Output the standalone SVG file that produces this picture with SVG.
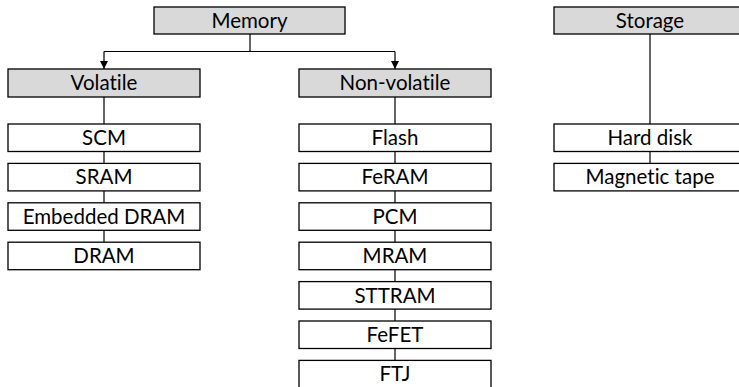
<svg xmlns="http://www.w3.org/2000/svg" width="739" height="387" viewBox="0 0 739 387">
  <defs>
    <marker id="arrow" viewBox="0 0 10 10" refX="10" refY="5" markerWidth="8" markerHeight="8" markerUnits="userSpaceOnUse" orient="auto">
      <path d="M0,0 L10,5 L0,10 z" fill="#000"/>
    </marker>
    <style>
      .head rect { fill: #d9d9d9; stroke: #000; stroke-width: 1.3; }
      .item rect { fill: #fff; stroke: #000; stroke-width: 1.3; }
      text { font-family: "Lato", "Open Sans", sans-serif; font-size: 20.5px; fill: #000; text-anchor: middle; font-variant-ligatures: none; font-feature-settings: "liga" 0, "clig" 0; }
      .links path { fill: none; stroke: #000; stroke-width: 1.2; }
    </style>
  </defs>
  <rect width="739" height="387" fill="#fff"/>

  <!-- connectors -->
  <g class="links">
    <path d="M250,34 V51.5 H104"/>
    <path d="M250,51.5 H395"/>
    <path d="M104,51.5 V69" marker-end="url(#arrow)"/>
    <path d="M395,51.5 V69" marker-end="url(#arrow)"/>
    <path d="M104,97 V124 M104,151.5 V163.4 M104,190.9 V202.8 M104,230.3 V242.2"/>
    <path d="M395,97 V124 M395,151.5 V163.4 M395,190.9 V202.8 M395,230.3 V242.2 M395,269.7 V281.6 M395,309.1 V321 M395,348.5 V360.4"/>
    <path d="M650,34 V124 M650,151.5 V163.4"/>
  </g>

  <!-- category headers -->
  <g id="memory" class="head"><rect x="154" y="7" width="191" height="27"/><text x="249.5" y="28">Memory</text></g>
  <g id="volatile" class="head"><rect x="8" y="69" width="192" height="28"/><text x="104" y="90">Volatile</text></g>
  <g id="nonvolatile" class="head"><rect x="299" y="69" width="192" height="28"/><text x="395" y="90">Non-volatile</text></g>
  <g id="storage" class="head"><rect x="554" y="7" width="192" height="27"/><text x="650" y="28">Storage</text></g>

  <!-- volatile memories -->
  <g id="scm" class="item"><rect x="8" y="124" width="192" height="27.5"/><text x="104" y="145">SCM</text></g>
  <g id="sram" class="item"><rect x="8" y="163.4" width="192" height="27.5"/><text x="104" y="184.4">SRAM</text></g>
  <g id="edram" class="item"><rect x="8" y="202.8" width="192" height="27.5"/><text x="104" y="223.8">Embedded DRAM</text></g>
  <g id="dram" class="item"><rect x="8" y="242.2" width="192" height="27.5"/><text x="104" y="263.2">DRAM</text></g>

  <!-- non-volatile memories -->
  <g id="flash" class="item"><rect x="299" y="124" width="192" height="27.5"/><text x="395" y="145">Flash</text></g>
  <g id="feram" class="item"><rect x="299" y="163.4" width="192" height="27.5"/><text x="395" y="184.4">FeRAM</text></g>
  <g id="pcm" class="item"><rect x="299" y="202.8" width="192" height="27.5"/><text x="395" y="223.8">PCM</text></g>
  <g id="mram" class="item"><rect x="299" y="242.2" width="192" height="27.5"/><text x="395" y="263.2">MRAM</text></g>
  <g id="sttram" class="item"><rect x="299" y="281.6" width="192" height="27.5"/><text x="395" y="302.6">STTRAM</text></g>
  <g id="fefet" class="item"><rect x="299" y="321" width="192" height="27.5"/><text x="395" y="342">FeFET</text></g>
  <g id="ftj" class="item"><rect x="299" y="360.4" width="192" height="40"/><text x="395" y="381.4">FTJ</text></g>

  <!-- storage media -->
  <g id="harddisk" class="item"><rect x="554" y="124" width="192" height="27.5"/><text x="650" y="145">Hard disk</text></g>
  <g id="tape" class="item"><rect x="554" y="163.4" width="192" height="27.5"/><text x="650" y="184.4">Magnetic tape</text></g>
</svg>
